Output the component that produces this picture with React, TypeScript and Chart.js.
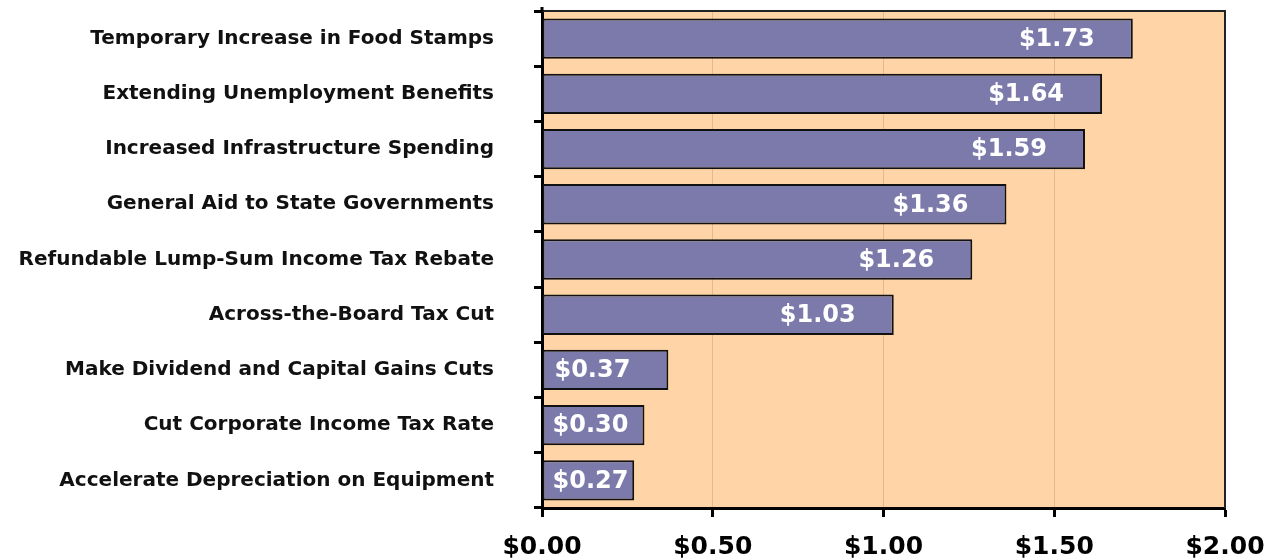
import React, { useEffect, useRef } from "react";
import { Chart, registerables } from "chart.js";

Chart.register(...registerables);

const categories = [
  "Temporary Increase in Food Stamps",
  "Extending Unemployment Benefits",
  "Increased Infrastructure Spending",
  "General Aid to State Governments",
  "Refundable Lump-Sum Income Tax Rebate",
  "Across-the-Board Tax Cut",
  "Make Dividend and Capital Gains Cuts",
  "Cut Corporate Income Tax Rate",
  "Accelerate Depreciation on Equipment",
];

const bangForBuck = [1.73, 1.64, 1.59, 1.36, 1.26, 1.03, 0.37, 0.3, 0.27];

const xTickValues = [0, 0.5, 1.0, 1.5, 2.0];

const FONT = "'DejaVu Sans', Verdana, sans-serif";

const plotBg = {
  id: "plotBg",
  beforeDraw(chart: any) {
    const { ctx, chartArea } = chart;
    ctx.save();
    ctx.fillStyle = "#FFD4A6";
    ctx.fillRect(chartArea.left, chartArea.top, chartArea.right - chartArea.left, chartArea.bottom - chartArea.top);
    ctx.restore();
  },
  afterDraw(chart: any) {
    const { ctx, chartArea } = chart;
    ctx.save();
    ctx.strokeStyle = "#222";
    ctx.lineWidth = 2;
    ctx.beginPath();
    ctx.moveTo(chartArea.left, chartArea.top);
    ctx.lineTo(chartArea.right, chartArea.top);
    ctx.lineTo(chartArea.right, chartArea.bottom);
    ctx.stroke();
    ctx.strokeStyle = "#000";
    ctx.lineWidth = 3;
    ctx.beginPath();
    ctx.moveTo(chartArea.left, chartArea.top - 4);
    ctx.lineTo(chartArea.left, chartArea.top);
    ctx.stroke();
    ctx.restore();
  },
};

const valueLabels = {
  id: "valueLabels",
  afterDatasetsDraw(chart: any) {
    const { ctx } = chart;
    const meta = chart.getDatasetMeta(0);
    ctx.save();
    ctx.font = `bold 24px ${FONT}`;
    ctx.fillStyle = "#FFFFFF";
    ctx.textAlign = "right";
    ctx.textBaseline = "middle";
    meta.data.forEach((el: any, i: number) => {
      const txt = "$" + bangForBuck[i].toFixed(2);
      const w = ctx.measureText(txt).width;
      const x = Math.max(el.x - 38, el.base + 10 + w);
      ctx.fillText(txt, x, el.y + 1);
    });
    ctx.restore();
  },
};

export default function App() {
  const ref = useRef<HTMLCanvasElement | null>(null);
  useEffect(() => {
    if (!ref.current) return;
    const chart = new Chart(ref.current, {
      type: "bar",
      data: {
        labels: categories,
        datasets: [
          {
            data: bangForBuck,
            backgroundColor: "#7B7AAB",
            borderColor: "#111",
            borderWidth: 2,
            borderSkipped: false,
            barPercentage: 0.73,
            categoryPercentage: 1,
          },
        ],
      },
      options: {
        indexAxis: "y",
        animation: false,
        responsive: false,
        maintainAspectRatio: false,
        layout: { padding: { top: 11, right: 41, left: 8, bottom: 0 } },
        plugins: { legend: { display: false }, tooltip: { enabled: false } },
        scales: {
          x: {
            min: 0,
            max: 2,
            afterBuildTicks: (scale: any) => {
              scale.ticks = xTickValues.map((v) => ({ value: v }));
            },
            afterFit: (scale: any) => {
              scale.height = 52;
              scale.paddingLeft = 0;
              scale.paddingRight = 0;
            },
            ticks: {
              callback: (v: any) => "$" + Number(v).toFixed(2),
              font: { family: FONT, size: 25, weight: "bold" },
              color: "#000",
              padding: 15,
              maxRotation: 0,
            },
            grid: {
              color: "#E2B992",
              lineWidth: 1,
              tickColor: "#000",
              tickLength: 9,
              tickWidth: 3,
            },
            border: { color: "#000", width: 3 },
          },
          y: {
            afterFit: (scale: any) => {
              scale.width = 534;
              scale.paddingTop = 0;
              scale.paddingBottom = 0;
            },
            ticks: {
              font: { family: FONT, size: 20, weight: "bold" },
              color: "#111",
              padding: 40,
            },
            grid: {
              offset: true,
              drawOnChartArea: false,
              tickColor: "#000",
              tickLength: 8,
              tickWidth: 3,
            },
            border: { color: "#000", width: 3 },
          },
        },
      },
      plugins: [plotBg, valueLabels],
    });
    return () => chart.destroy();
  }, []);
  return (
    <div style={{ position: "fixed", left: 0, top: 0, width: 1266, height: 560, background: "#fff" }}>
      <canvas ref={ref} width={1266} height={560} style={{ width: 1266, height: 560 }} />
    </div>
  );
}
